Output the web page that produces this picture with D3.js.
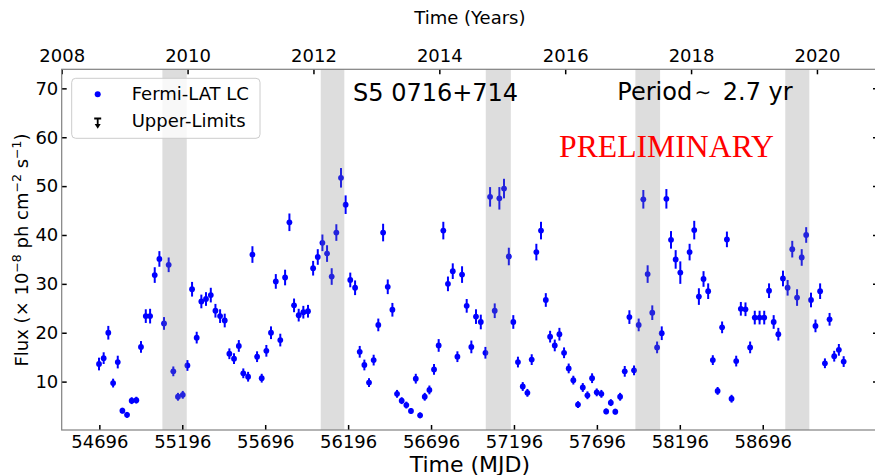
<!DOCTYPE html>
<html>
<head>
<meta charset="utf-8">
<script src="https://cdn.jsdelivr.net/npm/d3@7"></script>
<style>
  body { margin: 0; background: #fff; }
  svg { display: block; font-family: "DejaVu Sans", sans-serif; }
</style>
</head>
<body>
<div id="chart"></div>
<script>
// light curve, 28 day bins (MJD, flux in 1e-8 ph cm^-2 s^-1)
const mjd = [
  54694, 54722, 54750, 54779, 54807, 54835, 54863, 54891, 54919, 54947,
  54976, 55002, 55030, 55058, 55086, 55114, 55142, 55170, 55199, 55227,
  55255, 55283, 55311, 55339, 55368, 55396, 55424, 55452, 55480, 55508,
  55537, 55564, 55593, 55619, 55647, 55675, 55703, 55731, 55760, 55787,
  55816, 55842, 55870, 55898, 55926, 55954, 55985, 56013, 56041, 56069,
  56097, 56125, 56153, 56181, 56209, 56238, 56266, 56294, 56322, 56350,
  56378, 56407, 56435, 56463, 56491, 56519, 56547, 56575, 56604, 56630,
  56658, 56686, 56714, 56742, 56770, 56798, 56827, 56855, 56883, 56911,
  56939, 56967, 56996, 57024, 57052, 57080, 57108, 57136, 57165, 57192,
  57220, 57249, 57277, 57303, 57331, 57359, 57388, 57414, 57442, 57470,
  57498, 57526, 57554, 57582, 57611, 57639, 57667, 57695, 57723, 57752,
  57780, 57807, 57836, 57864, 57892, 57920, 57948, 57976, 58002, 58030,
  58059, 58087, 58115, 58143, 58171, 58199, 58255, 58283, 58311, 58339,
  58367, 58395, 58424, 58451, 58480, 58508, 58536, 58564, 58592, 58620,
  58648, 58677, 58705, 58734, 58762, 58790, 58818, 58846, 58874, 58903,
  58931, 58958, 58987, 59014, 59042, 59071, 59099, 59127, 59155, 59184
];
const flux = [
  13.6, 14.8, 20.0, 9.7, 14.0, 4.05, 3.2, 6.1, 6.2, 17.1,
  23.4, 23.4, 31.8, 35.1, 21.9, 33.9, 12.1, 6.9, 7.3, 13.3,
  28.9, 19.0, 26.4, 26.9, 27.7, 24.5, 23.4, 22.5, 15.7, 14.7,
  17.3, 11.7, 11.0, 36.0, 15.1, 10.7, 16.3, 20.0, 30.5, 18.5,
  31.3, 42.6, 25.6, 23.6, 24.2, 24.4, 33.2, 35.5, 38.4, 36.2,
  31.5, 40.5, 51.7, 46.2, 30.8, 29.2, 16.1, 13.4, 9.8, 14.4,
  21.6, 40.5, 29.4, 24.7, 7.5, 6.1, 5.2, 4.0, 10.6, 3.1,
  6.9, 8.3, 12.5, 17.4, 40.9, 30.0, 32.6, 15.1, 31.9, 25.5,
  17.1, 23.3, 22.2, 15.9, 47.8, 24.5, 47.5, 49.5, 35.6, 22.2,
  14.0, 9.0, 7.7, 14.5, 36.5, 40.9, 26.7, 19.2, 17.4, 19.7,
  15.9, 12.7, 10.3, 5.3, 8.8, 7.2, 10.7, 7.8, 7.5, 3.9,
  5.7, 3.85, 6.9, 12.1, 23.2, 12.3, 21.6, 47.3, 32.0, 24.1,
  17.0, 19.9, 47.4, 39.0, 35.0, 32.3, 36.5, 41.0, 27.4, 31.0,
  28.5, 14.4, 8.1, 21.1, 39.1, 6.5, 14.2, 24.9, 24.8, 17.0,
  23.1, 23.1, 23.1, 28.6, 22.2, 19.7, 31.1, 29.2, 37.1, 27.2,
  35.4, 40.0, 26.7, 21.4, 28.5, 13.75, 22.75, 15.2, 16.5, 14.1
];
const fluxErr = [
  1.3, 1.2, 1.4, 0.9, 1.3, 0.6, 0.6, 0.7, 0.7, 1.2,
  1.4, 1.5, 1.6, 1.6, 1.3, 1.5, 1.0, 0.8, 0.8, 1.1,
  1.5, 1.2, 1.4, 1.4, 1.5, 1.4, 1.4, 1.4, 1.1, 1.1,
  1.2, 1.0, 1.0, 1.7, 1.1, 0.9, 1.2, 1.3, 1.5, 1.3,
  1.6, 1.8, 1.4, 1.3, 1.3, 1.3, 1.5, 1.6, 1.7, 1.7,
  1.7, 1.7, 2.0, 1.9, 1.5, 1.5, 1.2, 1.1, 0.9, 1.1,
  1.3, 1.8, 1.5, 1.4, 0.8, 0.7, 0.7, 0.6, 1.0, 0.6,
  0.8, 0.9, 1.1, 1.3, 1.8, 1.5, 1.6, 1.1, 1.7, 1.4,
  1.3, 1.5, 1.5, 1.2, 2.0, 1.5, 2.3, 2.0, 1.8, 1.4,
  1.1, 0.9, 0.8, 1.1, 1.7, 1.8, 1.4, 1.2, 1.2, 1.3,
  1.1, 1.0, 0.9, 0.7, 0.9, 0.8, 1.0, 0.8, 0.8, 0.6,
  0.7, 0.6, 0.8, 1.1, 1.4, 1.0, 1.3, 1.9, 1.8, 1.5,
  1.2, 1.4, 2.0, 1.8, 1.9, 2.3, 1.7, 1.9, 1.7, 1.6,
  1.6, 1.0, 0.8, 1.2, 1.6, 0.8, 1.1, 1.4, 1.4, 1.2,
  1.4, 1.4, 1.4, 1.5, 1.4, 1.3, 1.6, 1.6, 1.7, 1.7,
  1.7, 1.6, 1.5, 1.3, 1.6, 1.0, 1.3, 1.1, 1.2, 1.1
];

// shaded intervals (MJD start, end)
const bandStart = [55076, 56031, 57026, 57928, 58832];
const bandEnd = [55223, 56173, 57177, 58077, 58977];

const mjdTicks = [54696, 55196, 55696, 56196, 56696, 57196, 57696, 58196, 58696];
const yearTicks = [2008, 2010, 2012, 2014, 2016, 2018, 2020];
const fluxTicks = [10, 20, 30, 40, 50, 60, 70];

const W = 875, H = 475;
const pl = 61.7, pr = 878, pt = 69.3, pb = 430;

const svg = d3.select("#chart").append("svg")
  .attr("width", W).attr("height", H);

const x = d3.scaleLinear().domain([54469, 59391]).range([pl, pr]);
const xYear = d3.scaleLinear().domain([2008, 2020.97]).range([pl, pr]);
const y = d3.scaleLinear().domain([0.1, 73.9]).range([pb, pt]);

const data = mjd.map((m, i) => ({ t: m, f: flux[i], e: fluxErr[i] }));

// points + error bars
const pts = svg.append("g");
pts.selectAll("line").data(data).join("line")
  .attr("x1", d => x(d.t)).attr("x2", d => x(d.t))
  .attr("y1", d => y(d.f - d.e)).attr("y2", d => y(d.f + d.e))
  .attr("stroke", "#0000ff").attr("stroke-width", 2);
pts.selectAll("circle").data(data).join("circle")
  .attr("cx", d => x(d.t)).attr("cy", d => y(d.f))
  .attr("r", 2.9).attr("fill", "#0000ff");

// grey bands (drawn over the points, semi transparent)
svg.append("g").selectAll("rect").data(bandStart).join("rect")
  .attr("x", (d, i) => x(d))
  .attr("width", (d, i) => x(bandEnd[i]) - x(d))
  .attr("y", pt).attr("height", pb - pt)
  .attr("fill", "#808080").attr("opacity", 0.27);

// axes, ticks pointing inward
const fs = 18;
const gx = svg.append("g").attr("transform", `translate(0,${pb})`)
  .call(d3.axisBottom(x).tickValues(mjdTicks).tickFormat(d3.format("d"))
    .tickSize(-5).tickSizeOuter(0).tickPadding(5.5));
const gt = svg.append("g").attr("transform", `translate(0,${pt})`)
  .call(d3.axisTop(xYear).tickValues(yearTicks).tickFormat(d3.format("d"))
    .tickSize(-5).tickSizeOuter(0).tickPadding(7));
const gy = svg.append("g").attr("transform", `translate(${pl},0)`)
  .call(d3.axisLeft(y).tickValues(fluxTicks).tickSize(-5).tickSizeOuter(0).tickPadding(3.4));
const gr = svg.append("g").attr("transform", `translate(${pr},0)`)
  .call(d3.axisRight(y).tickValues(fluxTicks).tickFormat("").tickSize(-5).tickSizeOuter(0));

[gx, gt, gy, gr].forEach(g => {
  g.select(".domain").remove();
  g.selectAll(".tick line").attr("stroke", "#000").attr("stroke-width", 1.5);
  g.selectAll(".tick text").attr("font-size", fs).attr("fill", "#000")
    .attr("font-family", "DejaVu Sans");
});

// frame
svg.append("rect")
  .attr("x", pl).attr("y", pt)
  .attr("width", pr - pl).attr("height", pb - pt)
  .attr("fill", "none").attr("stroke", "#808080").attr("stroke-width", 1.2);

// axis titles
svg.append("text").attr("x", (pl + pr) / 2).attr("y", 471.5)
  .attr("text-anchor", "middle").attr("font-size", 22).text("Time (MJD)");
svg.append("text").attr("x", (pl + pr) / 2).attr("y", 24)
  .attr("text-anchor", "middle").attr("font-size", 18).text("Time (Years)");

const yl = svg.append("text")
  .attr("transform", "translate(28.3,250) rotate(-90)")
  .attr("text-anchor", "middle").attr("font-size", 18);
yl.append("tspan").text("Flux (× 10");
yl.append("tspan").attr("baseline-shift", "super").attr("font-size", 12.5).text("−8");
yl.append("tspan").text(" ph cm");
yl.append("tspan").attr("baseline-shift", "super").attr("font-size", 12.5).text("−2");
yl.append("tspan").text(" s");
yl.append("tspan").attr("baseline-shift", "super").attr("font-size", 12.5).text("−1");
yl.append("tspan").text(")");

// annotations
svg.append("text").attr("x", 353).attr("y", 101).attr("font-size", 24).text("S5 0716+714");
svg.append("text").attr("x", 617.3).attr("y", 100).attr("font-size", 24).text("Period");
svg.append("text").attr("x", 703).attr("y", 99).attr("font-size", 20)
  .attr("text-anchor", "middle").text("∼");
svg.append("text").attr("x", 792.7).attr("y", 100).attr("font-size", 24)
  .attr("text-anchor", "end").text("2.7 yr");
svg.append("text").attr("x", 559).attr("y", 157.3)
  .attr("font-family", "Liberation Serif, Times New Roman, serif")
  .attr("font-size", 30.5).attr("fill", "#ff0000")
  .attr("textLength", 215).attr("lengthAdjust", "spacingAndGlyphs")
  .text("PRELIMINARY");

// legend
const lg = svg.append("g");
lg.append("rect").attr("x", 71.7).attr("y", 78.3).attr("width", 188.3).attr("height", 60)
  .attr("rx", 4).attr("fill", "#fff").attr("fill-opacity", 0.8)
  .attr("stroke", "#cccccc").attr("stroke-width", 1);
lg.append("circle").attr("cx", 97.7).attr("cy", 94.3).attr("r", 3).attr("fill", "#0000ff");
lg.append("text").attr("x", 131.7).attr("y", 100).attr("font-size", 18).text("Fermi-LAT LC");
lg.append("path")
  .attr("d", "M94.2,118.5 H101.2 M97.7,118.5 V125")
  .attr("stroke", "#000").attr("stroke-width", 1.8).attr("fill", "none");
lg.append("path")
  .attr("d", "M94.7,124 L100.7,124 L97.7,128.8 Z")
  .attr("fill", "#000");
lg.append("text").attr("x", 131.7).attr("y", 126.7).attr("font-size", 18).text("Upper-Limits");
</script>
</body>
</html>
